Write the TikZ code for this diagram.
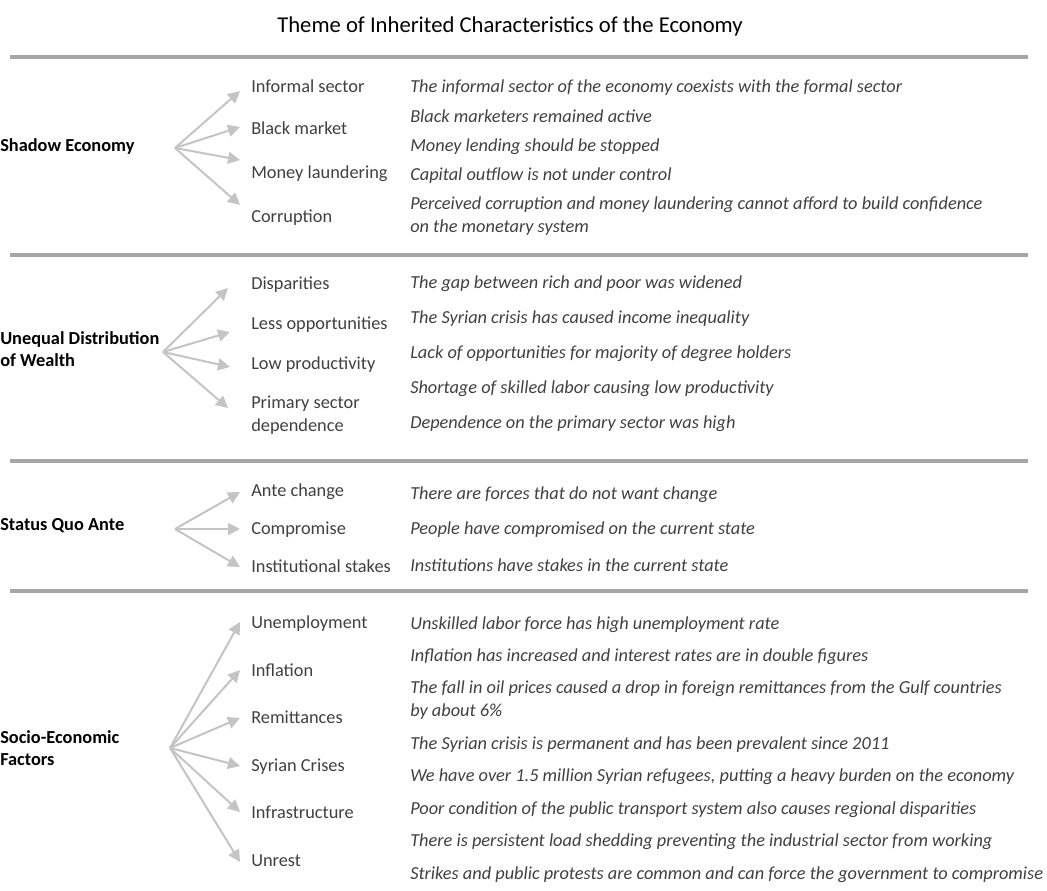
\documentclass[tikz,border=0pt]{standalone}
\usepackage{fontspec}
\setmainfont{Carlito}
\usepackage{tikz}
\usetikzlibrary{arrows.meta}

\definecolor{rulegray}{HTML}{A6A6A6}
\definecolor{arrowgray}{HTML}{C4C4C4}
\definecolor{textgray}{HTML}{404040}

\begin{document}
\begin{tikzpicture}[
    x=0.75pt, y=-0.75pt,
    title/.style={font=\fontsize{17}{20}\selectfont, anchor=base, inner sep=0pt},
    theme/.style={font=\fontsize{13.75}{16.5}\selectfont\bfseries, anchor=base west,
                  inner sep=0pt, align=left},
    item/.style={font=\fontsize{13.75}{17.25}\selectfont, text=textgray, anchor=base west,
                 inner sep=0pt, align=left},
    quote/.style={font=\fontsize{13.75}{17.25}\selectfont\itshape, text=textgray,
                  anchor=base west, inner sep=0pt, align=left},
    sep/.style={draw=rulegray, line width=2.6pt},
    arrow/.style={-{Triangle[length=9pt, width=9pt]}, line width=1.5pt, draw=arrowgray}
]
    \useasboundingbox (0,0) rectangle (1047,891);

    % Title
    \node[title] (title) at (510, 33) {Theme of Inherited Characteristics of the Economy};

    % Separators
    \draw[sep] (10, 57) -- (1028, 57);
    \draw[sep] (10, 255) -- (1028, 255);
    \draw[sep] (10, 461) -- (1028, 461);
    \draw[sep] (10, 591) -- (1028, 591);

    % Shadow economy
    \node[theme] (shadow) at (0, 152) {Shadow Economy};
    \coordinate (hubA) at (175, 148);
    \node[item] (informal) at (251, 93) {Informal sector};
    \node[item] (black) at (251, 135) {Black market};
    \node[item] (laundering) at (251, 179) {Money laundering};
    \node[item] (corruption) at (251, 223) {Corruption};
    \coordinate (tipA1) at (240, 91);
    \coordinate (tipA2) at (240, 127);
    \coordinate (tipA3) at (240, 160);
    \coordinate (tipA4) at (240, 205);
    \draw[arrow] (hubA) -- (tipA1);
    \draw[arrow] (hubA) -- (tipA2);
    \draw[arrow] (hubA) -- (tipA3);
    \draw[arrow] (hubA) -- (tipA4);
    \node[quote] (qA1) at (410, 93) {The informal sector of the economy coexists with the formal sector};
    \node[quote] (qA2) at (410, 123) {Black marketers remained active};
    \node[quote] (qA3) at (410, 152) {Money lending should be stopped};
    \node[quote] (qA4) at (410, 181) {Capital outflow is not under control};
    \node[quote] (qA5) at (410, 233) {Perceived corruption and money laundering cannot afford to build confidence\\on the monetary system};

    % Unequal distribution
    \node[theme] (unequal) at (0, 367) {Unequal Distribution\\of Wealth};
    \coordinate (hubB) at (163, 352);
    \node[item] (disparities) at (251, 290) {Disparities};
    \node[item] (opportunities) at (251, 330) {Less opportunities};
    \node[item] (productivity) at (251, 370) {Low productivity};
    \node[item] (primary) at (251, 432) {Primary sector\\dependence};
    \coordinate (tipB1) at (228, 288);
    \coordinate (tipB2) at (230, 332);
    \coordinate (tipB3) at (230, 367);
    \coordinate (tipB4) at (228, 408);
    \draw[arrow] (hubB) -- (tipB1);
    \draw[arrow] (hubB) -- (tipB2);
    \draw[arrow] (hubB) -- (tipB3);
    \draw[arrow] (hubB) -- (tipB4);
    \node[quote] (qB1) at (410, 289) {The gap between rich and poor was widened};
    \node[quote] (qB2) at (410, 324) {The Syrian crisis has caused income inequality};
    \node[quote] (qB3) at (410, 359) {Lack of opportunities for majority of degree holders};
    \node[quote] (qB4) at (410, 394) {Shortage of skilled labor causing low productivity};
    \node[quote] (qB5) at (410, 429) {Dependence on the primary sector was high};

    % Status quo ante
    \node[theme] (statusquo) at (0, 530) {Status Quo Ante};
    \coordinate (hubC) at (175, 529);
    \node[item] (antechange) at (251, 496) {Ante change};
    \node[item] (compromise) at (251, 534) {Compromise};
    \node[item] (stakes) at (251, 572) {Institutional stakes};
    \coordinate (tipC1) at (240, 492);
    \coordinate (tipC2) at (240, 529);
    \coordinate (tipC3) at (240, 567);
    \draw[arrow] (hubC) -- (tipC1);
    \draw[arrow] (hubC) -- (tipC2);
    \draw[arrow] (hubC) -- (tipC3);
    \node[quote] (qC1) at (410, 499) {There are forces that do not want change};
    \node[quote] (qC2) at (410, 534) {People have compromised on the current state};
    \node[quote] (qC3) at (410, 571) {Institutions have stakes in the current state};

    % Socio-economic factors
    \node[theme] (socio) at (0, 765) {Socio-Economic\\Factors};
    \coordinate (hubD) at (170, 748);
    \node[item] (unemployment) at (251, 628) {Unemployment};
    \node[item] (inflation) at (251, 676) {Inflation};
    \node[item] (remittances) at (251, 723) {Remittances};
    \node[item] (syrian) at (251, 771) {Syrian Crises};
    \node[item] (infrastructure) at (251, 818) {Infrastructure};
    \node[item] (unrest) at (251, 866) {Unrest};
    \coordinate (tipD1) at (240, 622);
    \coordinate (tipD2) at (240, 670);
    \coordinate (tipD3) at (240, 718);
    \coordinate (tipD4) at (240, 766);
    \coordinate (tipD5) at (240, 812);
    \coordinate (tipD6) at (240, 862);
    \draw[arrow] (hubD) -- (tipD1);
    \draw[arrow] (hubD) -- (tipD2);
    \draw[arrow] (hubD) -- (tipD3);
    \draw[arrow] (hubD) -- (tipD4);
    \draw[arrow] (hubD) -- (tipD5);
    \draw[arrow] (hubD) -- (tipD6);
    \node[quote] (qD1) at (410, 629) {Unskilled labor force has high unemployment rate};
    \node[quote] (qD2) at (410, 661) {Inflation has increased and interest rates are in double figures};
    \node[quote] (qD3) at (410, 716) {The fall in oil prices caused a drop in foreign remittances from the Gulf countries\\by about 6\%};
    \node[quote] (qD4) at (410, 749) {The Syrian crisis is permanent and has been prevalent since 2011};
    \node[quote] (qD5) at (410, 781) {We have over 1.5 million Syrian refugees, putting a heavy burden on the economy};
    \node[quote] (qD6) at (410, 814) {Poor condition of the public transport system also causes regional disparities};
    \node[quote] (qD7) at (410, 846) {There is persistent load shedding preventing the industrial sector from working};
    \node[quote] (qD8) at (410, 879) {Strikes and public protests are common and can force the government to compromise};

\end{tikzpicture}
\end{document}
